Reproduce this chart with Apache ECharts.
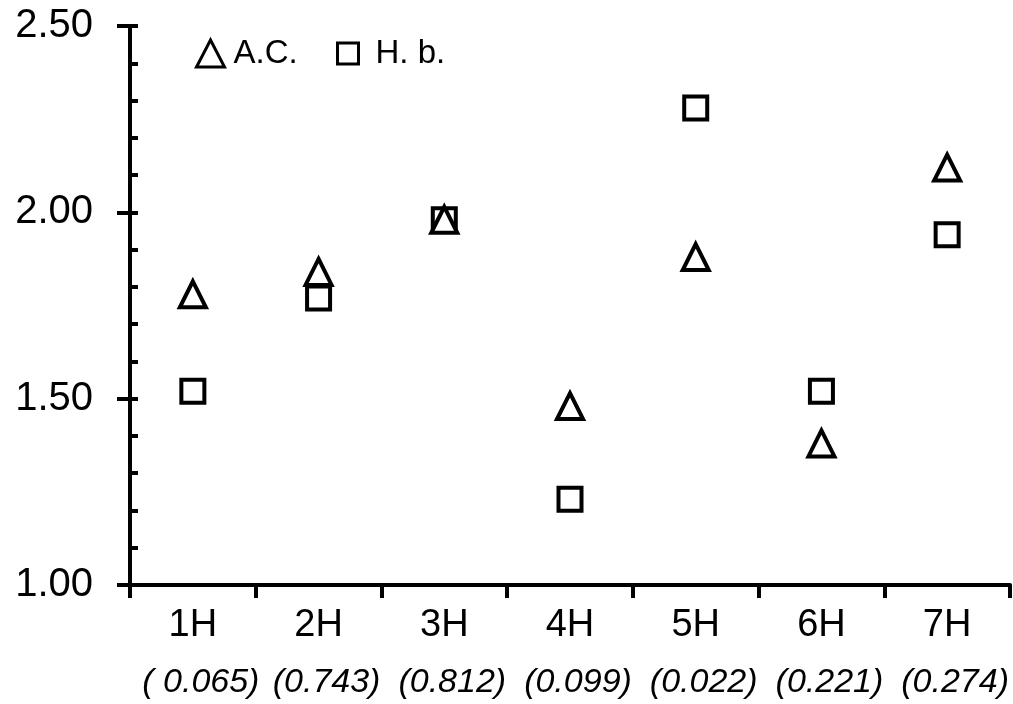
<!DOCTYPE html>
<html>
<head>
<meta charset="utf-8">
<script src="https://cdn.jsdelivr.net/npm/echarts@6/dist/echarts.min.js"></script>
<style>
html,body{margin:0;padding:0;background:#fff;}
#chart{width:1013px;height:704px;}
</style>
</head>
<body>
<div id="chart"></div>
<script>
const categories = ['1H', '2H', '3H', '4H', '5H', '6H', '7H'];
const pValues = ['( 0.065)', '(0.743)', '(0.812)', '(0.099)', '(0.022)', '(0.221)', '(0.274)'];
const seriesNames = ['A.C.', 'H. b.'];
const acValues = [1.78, 1.84, 1.98, 1.48, 1.88, 1.38, 2.12];
const hbValues = [1.52, 1.77, 1.98, 1.23, 2.28, 1.52, 1.94];
const yTicks = [1.0, 1.5, 2.0, 2.5];

const chart = echarts.init(document.getElementById('chart'));
const markerStyle = { color: '#ffffff', borderColor: '#000000', borderWidth: 4, opacity: 1 };
const legendText = { fontFamily: '"Liberation Sans", Arial, sans-serif', fontSize: 33, color: '#000' };

chart.setOption({
  animation: false,
  backgroundColor: '#ffffff',
  grid: { left: 130, right: 3, top: 26, bottom: 119, containLabel: false },
  legend: [{
    left: 190, top: 32,
    itemWidth: 28, itemHeight: 27,
    textStyle: Object.assign({ padding: [0, 0, 0, 4] }, legendText),
    data: [{ name: seriesNames[0], itemStyle: { borderWidth: 3 } }]
  }, {
    left: 331, top: 32,
    itemWidth: 21, itemHeight: 21,
    textStyle: Object.assign({ padding: [0, 0, 0, 12] }, legendText),
    data: [{ name: seriesNames[1], itemStyle: { borderWidth: 3 } }]
  }],
  xAxis: {
    type: 'category',
    data: categories,
    boundaryGap: true,
    axisLine: { lineStyle: { color: '#000', width: 4 } },
    axisTick: { show: true, inside: false, length: 13, lineStyle: { color: '#000', width: 4 }, alignWithLabel: false },
    axisLabel: {
      margin: 15,
      interval: 0,
      formatter: function (v, i) { return '{a|' + v + '}\n{b|' + pValues[i] + '}'; },
      rich: {
        a: { fontFamily: '"Liberation Sans", Arial, sans-serif', fontSize: 38, lineHeight: 52, color: '#000' },
        b: { fontFamily: '"Liberation Sans", Arial, sans-serif', fontSize: 34, fontStyle: 'italic', lineHeight: 62, color: '#000', padding: [0, 0, 0, 16] }
      }
    },
    splitLine: { show: false }
  },
  yAxis: [{
    type: 'value',
    min: yTicks[0], max: yTicks[yTicks.length - 1], interval: 0.5,
    axisLine: { show: true, lineStyle: { color: '#000', width: 4 } },
    axisTick: { show: true, inside: false, length: 13, lineStyle: { color: '#000', width: 4 } },
    minorTick: { show: false },
    axisLabel: {
      margin: 37,
      formatter: function (v) { return v.toFixed(2); },
      fontFamily: '"Liberation Sans", Arial, sans-serif', fontSize: 40, color: '#000'
    },
    splitLine: { show: false }
  }, {
    type: 'value', position: 'left', offset: 0,
    min: yTicks[0], max: yTicks[yTicks.length - 1], interval: 0.5,
    axisLine: { show: false },
    axisTick: { show: true, inside: true, length: 8, lineStyle: { color: '#000', width: 4 } },
    minorTick: { show: true, splitNumber: 5, length: 8, lineStyle: { color: '#000', width: 4 } },
    axisLabel: { show: false },
    splitLine: { show: false }
  }],
  series: [{
    name: seriesNames[0], type: 'scatter', symbol: 'triangle', symbolSize: [26, 26],
    itemStyle: markerStyle, z: 3,
    data: acValues
  }, {
    name: seriesNames[1], type: 'scatter', symbol: 'rect', symbolSize: 23,
    itemStyle: markerStyle, z: 2,
    data: hbValues
  }]
});
</script>
</body>
</html>
